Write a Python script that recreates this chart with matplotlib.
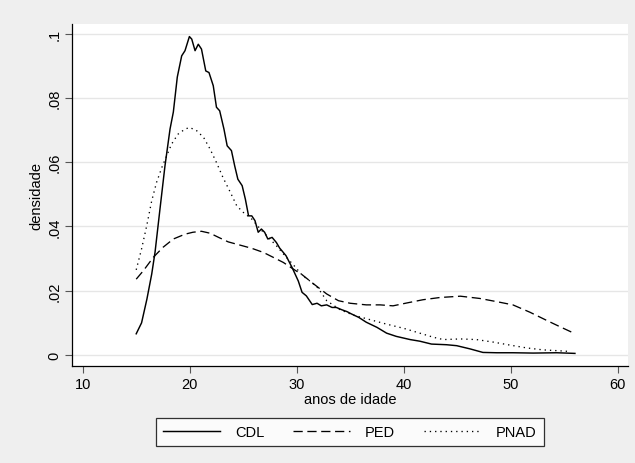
import matplotlib
matplotlib.use("Agg")
import matplotlib.pyplot as plt
from matplotlib.ticker import FixedLocator

plt.rcParams['font.family'] = ['Liberation Sans', 'DejaVu Sans']

# CDL (solid)
cdl_x = [15.0, 15.5, 16.0, 16.45, 16.76, 17.22, 17.69, 18.16, 18.47, 18.84, 19.25, 19.56,
         19.97, 20.19, 20.5, 20.8, 21.1, 21.5, 21.8, 22.2, 22.5, 22.8, 23.2, 23.5, 23.9,
         24.2, 24.5, 24.9, 25.2, 25.5, 25.8, 26.1, 26.4, 26.7, 27.0, 27.3, 27.7, 28.1,
         28.4, 29.0, 29.6, 30.15, 30.5, 30.9, 31.45, 31.9, 32.3, 32.8, 33.3, 33.7, 34.2,
         34.7, 35.1, 35.8, 36.5, 37.5, 38.4, 39.3, 40.6, 41.5, 42.6, 44.0, 44.95, 46.2,
         47.4, 48.7, 50.2, 52.1, 54.3, 56.0]
cdl_y = [0.0066, 0.0100, 0.0174, 0.0252, 0.0320, 0.0454, 0.0589, 0.0703, 0.0756, 0.0865,
         0.0931, 0.0947, 0.0991, 0.0983, 0.0947, 0.0967, 0.0952, 0.0884, 0.0879, 0.0838,
         0.0771, 0.0760, 0.0703, 0.0651, 0.0636, 0.0589, 0.0547, 0.0527, 0.0485, 0.0433,
         0.0433, 0.0418, 0.0382, 0.0392, 0.0382, 0.0361, 0.0366, 0.0350, 0.0333, 0.0309,
         0.0270, 0.0230, 0.0195, 0.0184, 0.0157, 0.0161, 0.0153, 0.0156, 0.0148, 0.0148,
         0.0141, 0.0135, 0.0128, 0.0117, 0.0102, 0.0086, 0.0068, 0.0058, 0.0048, 0.0043,
         0.0034, 0.0032, 0.0029, 0.0019, 0.0008, 0.0007, 0.0007, 0.0006, 0.0007, 0.0005]

# PED (dashed)
ped_x = [15.0, 15.66, 16.6, 17.5, 18.47, 19.56, 20.3, 21.1, 21.9, 22.7, 23.6, 24.7, 25.8,
         26.9, 27.8, 28.75, 29.7, 30.5, 31.55, 32.8, 33.9, 35.0, 36.5, 37.8, 39.0, 40.3,
         41.8, 43.4, 45.3, 47.1, 48.7, 50.2, 51.8, 53.4, 54.6, 55.7]
ped_y = [0.0236, 0.0262, 0.0304, 0.0335, 0.0361, 0.0376, 0.0382, 0.0385, 0.0379, 0.0366,
         0.0352, 0.0342, 0.0332, 0.0319, 0.0304, 0.0288, 0.0267, 0.0250, 0.0222, 0.0190,
         0.0169, 0.0161, 0.0156, 0.0156, 0.0153, 0.0162, 0.0172, 0.0179, 0.0183, 0.0176,
         0.0166, 0.0156, 0.0133, 0.0107, 0.0088, 0.0071]

# PNAD (dotted)
pnad_x = [15.0, 15.5, 15.98, 16.45, 16.9, 17.4, 17.85, 18.3, 18.9, 19.56, 20.0, 20.65,
          21.3, 21.9, 22.5, 23.1, 23.8, 24.4, 25.0, 25.8, 26.6, 27.35, 28.1, 28.9, 29.7,
          30.55, 31.4, 32.0, 32.8, 34.05, 35.3, 36.85, 38.4, 40.0, 41.5, 42.8, 43.7, 45.3,
          46.8, 48.4, 49.9, 51.5, 53.0, 54.6, 55.5]
pnad_y = [0.0265, 0.0330, 0.0402, 0.0480, 0.0537, 0.0584, 0.0620, 0.0656, 0.0687, 0.0703,
          0.0708, 0.0698, 0.0677, 0.0641, 0.0599, 0.0553, 0.0506, 0.0464, 0.0444, 0.0423,
          0.0392, 0.0366, 0.0340, 0.0309, 0.0280, 0.0247, 0.0226, 0.0208, 0.0169, 0.0141,
          0.0124, 0.0110, 0.0096, 0.0083, 0.0068, 0.0055, 0.0048, 0.0050, 0.0048, 0.0040,
          0.0031, 0.0022, 0.0016, 0.0013, 0.0011]

x_ticks = [10, 20, 30, 40, 50, 60]
y_ticks = [0, 0.02, 0.04, 0.06, 0.08, 0.1]
y_tick_labels = ['0', '.02', '.04', '.06', '.08', '.1']

fig = plt.figure(figsize=(6.35, 4.64), dpi=100, facecolor='#efefef')
ax = fig.add_axes([0.1139, 0.2101, 0.8751, 0.736])
ax.set_facecolor('white')

ax.plot(cdl_x, cdl_y, color='black', lw=1.05, ls='-', label='CDL')
ax.plot(ped_x, ped_y, color='black', lw=0.95, ls=(0, (7, 3.5)), label='PED')
ax.plot(pnad_x, pnad_y, color='black', lw=0.95, ls=(0, (1, 3.0)), label='PNAD')

ax.set_xlim(9.03, 60.96)
ax.set_ylim(-0.00327, 0.103)
ax.xaxis.set_major_locator(FixedLocator(x_ticks))
ax.set_yticks(y_ticks)
ax.set_yticklabels(y_tick_labels, rotation=90, va='center')
ax.grid(axis='y', color='#e6e6e6', lw=1.0)
ax.set_axisbelow(True)

for s in ['top', 'right']:
    ax.spines[s].set_visible(False)
for s in ['left', 'bottom']:
    ax.spines[s].set_color('black')
    ax.spines[s].set_linewidth(0.9)

ax.tick_params(axis='both', direction='out', length=5, width=0.8, color='#555555',
               labelsize=10.5, pad=3)

ax.set_xlabel('anos de idade', fontsize=10.5, labelpad=1)
ax.set_ylabel('densidade', fontsize=10.5, labelpad=3)

leg = fig.legend(loc='center', bbox_to_anchor=(0.551, 0.0668), ncol=3, fontsize=10.5,
                 frameon=True, fancybox=False, edgecolor='black', facecolor='white',
                 handlelength=3.9, columnspacing=2.0, handletextpad=1.0,
                 borderpad=0.5)
leg.get_frame().set_linewidth(0.9)

fig.savefig('out.png', dpi=100, facecolor=fig.get_facecolor())
